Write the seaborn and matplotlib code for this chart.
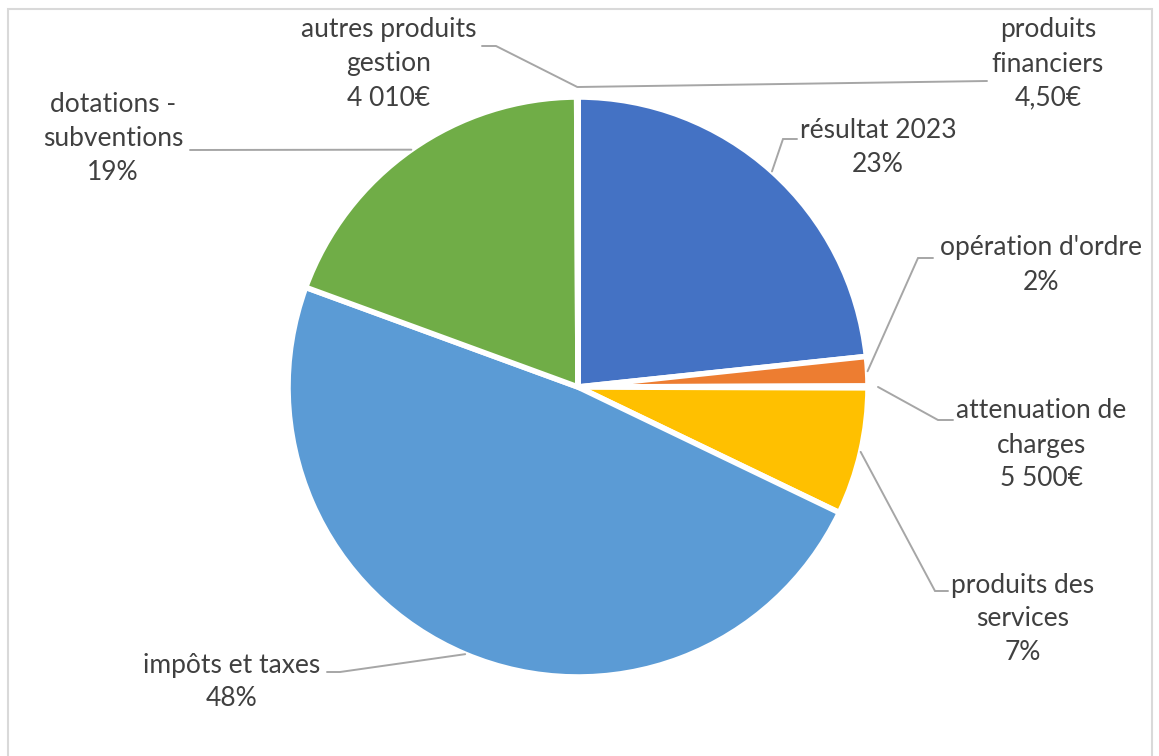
import numpy as np
import pandas as pd
import matplotlib
matplotlib.use("Agg")
import matplotlib.pyplot as plt
import seaborn as sns
from matplotlib.patches import Rectangle

# recettes de fonctionnement (en euros)
categories = ["résultat 2023", "opération d'ordre", "attenuation de charges",
              "produits des services", "impôts et taxes", "dotations - subventions",
              "autres produits gestion", "produits financiers"]
values = [1290000, 90000, 5500, 392000, 2680000, 1070000, 4010, 4.5]
label_texts = ["résultat 2023\n23%", "opération d'ordre\n2%", "attenuation de\ncharges\n5 500€",
               "produits des\nservices\n7%", "impôts et taxes\n48%", "dotations -\nsubventions\n19%",
               "autres produits\ngestion\n4 010€", "produits\nfinanciers\n4,50€"]
colors = ["#4472C4", "#ED7D31", "#A5A5A5", "#FFC000", "#5B9BD5", "#70AD47", "#264478", "#9E480E"]

data = pd.DataFrame({"categorie": categories, "valeur": values, "label": label_texts})

W, H = 1159, 756
CX, CY, R = 578, 387, 290

# position des étiquettes (pixels, y vers le bas) et coudes des lignes de rappel
label_pos = [(878, 148), (1041, 265), (1041, 445), (1023, 619), (232, 682),
             (113, 139), (389, 64), (1048, 64)]
elbows = [[(783, 139), (797, 139)], [(918, 258), (933, 258)], [(938, 420), (953, 420)],
          [(935, 591), (948, 591)], [(340, 672), (327, 672)], [(190, 150)],
          [(496, 46), (482, 46)], [(987, 81)]]


def px(x, y):
    return x, H - y


sns.set_theme(style="white")
plt.rcParams['font.family'] = ['Lato', 'DejaVu Sans']

fig = plt.figure(figsize=(W / 100, H / 100), dpi=100)
ax = fig.add_axes([0, 0, 1, 1])
ax.set_xlim(0, W)
ax.set_ylim(0, H)
ax.set_aspect('equal')
ax.axis('off')

wedges, _ = ax.pie(data["valeur"], colors=colors, startangle=90, counterclock=False,
                   center=px(CX, CY), radius=R,
                   wedgeprops=dict(edgecolor="white", linewidth=4))
ax.set_xlim(0, W)
ax.set_ylim(0, H)

total = data["valeur"].sum()
for w, val, txt, pos, path in zip(wedges, data["valeur"], data["label"], label_pos, elbows):
    mid = np.deg2rad((w.theta1 + w.theta2) / 2)
    r = R if val / total > 0.005 else R + 10
    ax0 = w.center[0] + r * np.cos(mid)
    ay0 = w.center[1] + r * np.sin(mid)
    pts = [(ax0, ay0)] + [px(*p) for p in path]
    ax.plot([p[0] for p in pts], [p[1] for p in pts], color="#A6A6A6", lw=1.4,
            solid_joinstyle="miter", zorder=1)
    ax.text(*px(*pos), txt, ha="center", va="center", fontsize=19, color="#404040",
            linespacing=1.45)

ax.add_patch(Rectangle(px(8, 770), 1144, 761, fill=False, edgecolor="#D9D9D9", lw=1.5,
                       clip_on=False))

fig.savefig("out.png", dpi=100)
